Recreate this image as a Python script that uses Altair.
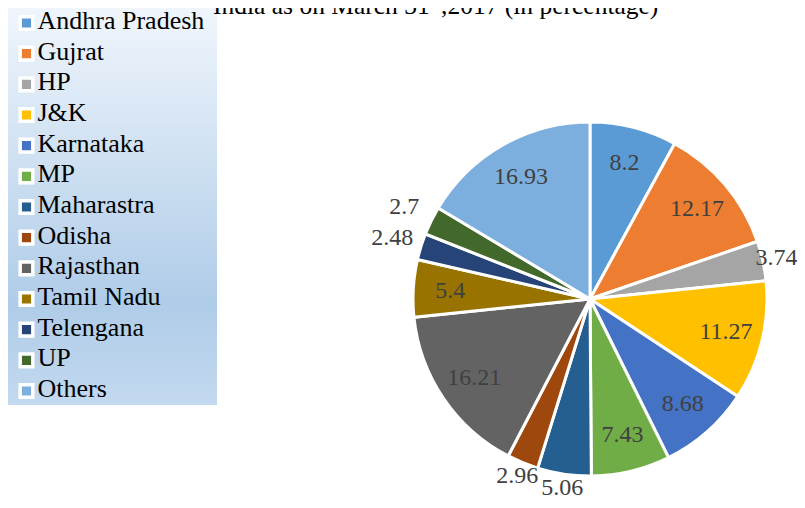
import altair as alt
import pandas as pd

states = ["Andhra Pradesh", "Gujrat", "HP", "J&K", "Karnataka", "MP", "Maharastra",
          "Odisha", "Rajasthan", "Tamil Nadu", "Telengana", "UP", "Others"]
values = [8.2, 12.17, 3.74, 11.27, 8.68, 7.43, 5.06, 2.96, 16.21, 5.4, 2.48, 2.7, 16.93]
colors = ["#5B9BD5", "#ED7D31", "#A5A5A5", "#FFC000", "#4472C4", "#70AD47", "#255E91",
          "#9E480E", "#636363", "#997300", "#264478", "#43682B", "#7CAFDD"]
title_a = "India as on March 31"
title_sup = "st"
title_b = ",2017 (in percentage)"

df = pd.DataFrame({"state": states, "value": values, "idx": list(range(len(states)))})

FONT = "Liberation Serif"
CX, CY, R = 582, 291, 177

color_scale = alt.Scale(domain=states, range=colors)

arcs = alt.Chart(df).mark_arc(outerRadius=R, stroke="white", strokeWidth=3).encode(
    theta=alt.Theta("value:Q", stack=True),
    order=alt.Order("idx:Q"),
    color=alt.Color("state:N", scale=color_scale, legend=None),
    x=alt.value(CX), y=alt.value(CY),
)

labels = alt.Chart(df).transform_window(
    cum="sum(value)", sort=[alt.SortField("idx", order="ascending")],
    frame=[None, 0]
).transform_joinaggregate(
    total="sum(value)"
).transform_calculate(
    mid="(datum.cum - datum.value / 2) / datum.total * 2 * PI",
    r="datum.value < 5.2 ? (datum.mid < 1.5 * PI ? 191 : 207) : 140",
).mark_text(font=FONT, fontSize=24, color="#404040").encode(
    theta=alt.Theta("mid:Q", scale=None, stack=None),
    radius=alt.Radius("r:Q", scale=None),
    text=alt.Text("value:Q"),
    x=alt.value(CX), y=alt.value(CY),
)

one = pd.DataFrame({"a": [0]})
bg = alt.Chart(one).mark_rect(
    fill={"gradient": "linear", "x1": 0, "y1": 0, "x2": 0, "y2": 1,
          "stops": [{"offset": 0, "color": "#f1f6fc"},
                    {"offset": 0.75, "color": "#afcce8"},
                    {"offset": 1, "color": "#c3d9ef"}]}
).encode(x=alt.value(-1), x2=alt.value(209), y=alt.value(-6), y2=alt.value(397))

yscale = alt.Scale(type="point", domain=states, range=[15, 383], padding=0)
leg = alt.Chart(df)
leg_sq = leg.mark_square(size=160, stroke="white", strokeWidth=3.5, opacity=1, filled=True).encode(
    x=alt.value(18.5),
    y=alt.Y("state:N", scale=yscale, axis=None),
    color=alt.Color("state:N", scale=color_scale, legend=None),
)
leg_txt = leg.mark_text(align="left", baseline="alphabetic", dy=6, font=FONT,
                        fontSize=26, color="black").encode(
    x=alt.value(29.5),
    y=alt.Y("state:N", scale=yscale, axis=None),
    text="state:N",
)

t1 = alt.Chart(one).mark_text(align="left", baseline="alphabetic", font=FONT, fontSize=25.5,
                              color="black").encode(
    x=alt.value(205), y=alt.value(5.5), text=alt.value(title_a))
t2 = alt.Chart(one).mark_text(align="left", baseline="alphabetic", font=FONT, fontSize=15,
                              color="black").encode(
    x=alt.value(421), y=alt.value(0), text=alt.value(title_sup))
t3 = alt.Chart(one).mark_text(align="left", baseline="alphabetic", font=FONT, fontSize=25.5,
                              color="black").encode(
    x=alt.value(433), y=alt.value(5.5), text=alt.value(title_b))

chart = alt.layer(bg, leg_sq, leg_txt, arcs, labels, t1, t2, t3).properties(
    width=789, height=492,
    autosize=alt.AutoSizeParams(type="none"),
    padding=0,
).configure_view(stroke=None)

chart.save("out.html", embed_options={"renderer": "svg", "actions": False})
